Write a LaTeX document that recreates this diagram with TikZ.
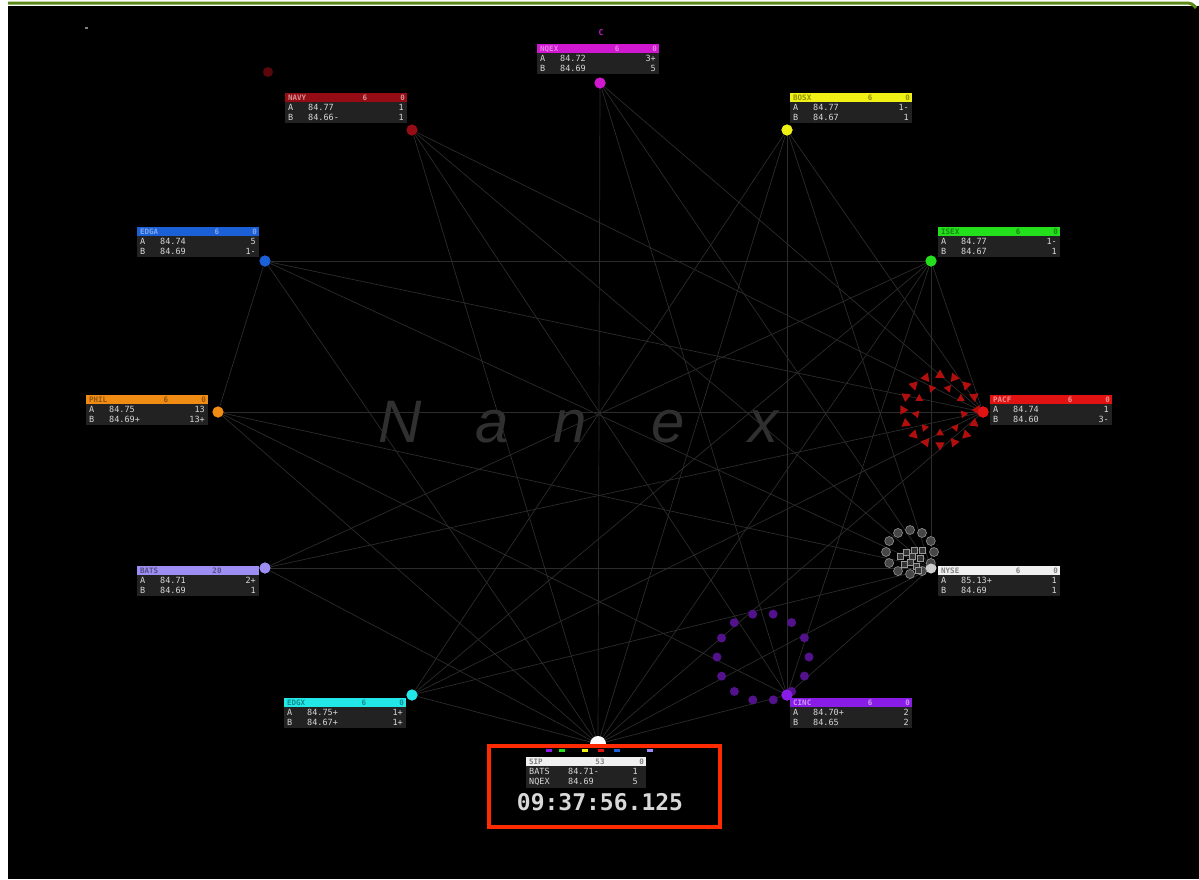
\documentclass[tikz,border=0pt]{standalone}
\usepackage{fontspec}
\setmonofont{DejaVu Sans Mono}
\setsansfont{Liberation Sans}
\usetikzlibrary{shapes.geometric}
\definecolor{rowbg}{HTML}{222222}
\definecolor{rowtext}{HTML}{D8D8D8}
\definecolor{linkgray}{HTML}{2C2C2C}
\definecolor{cMag}{HTML}{D018D0}
\definecolor{cNavy}{HTML}{960C14}
\definecolor{cYel}{HTML}{F0F014}
\definecolor{cBlue}{HTML}{1C60D8}
\definecolor{cGreen}{HTML}{24E01C}
\definecolor{cOrange}{HTML}{F08C14}
\definecolor{cRed}{HTML}{E01212}
\definecolor{cWhite}{HTML}{F0F0F0}
\definecolor{cLav}{HTML}{9C8EF2}
\definecolor{cCyan}{HTML}{22E8E8}
\definecolor{cPurp}{HTML}{8A1CE8}
\definecolor{frameGreen}{HTML}{5C8A1A}
\definecolor{boxRed}{HTML}{FF2A00}
\definecolor{wm}{HTML}{303030}
\tikzset{
  link/.style={draw=linkgray, line width=0.7pt},
  dot/.style={circle, fill=#1, inner sep=0pt, minimum size=11pt},
  lbl/.style={font=\fontsize{8.5}{9}\selectfont\ttfamily, text=rowtext, inner sep=0pt},
  hlbl/.style={font=\fontsize{7.5}{8}\selectfont\ttfamily\bfseries, inner sep=0pt},
  redtri/.style={regular polygon, regular polygon sides=3, fill=cRed!80!black, inner sep=0pt, minimum size=#1},
}
% header + row block: x y color textcolor name num zero
\newcommand\exhead[7]{%
  \fill[#3] (#1,#2) rectangle ++(122,9);
  \fill[rowbg] (#1,#2+9) rectangle ++(122,21);
  \node[hlbl,text=#4,anchor=base west] at (#1+3,#2+7.5) {#5};
  \node[hlbl,text=#4,anchor=base] at (#1+80,#2+7.5) {#6};
  \node[hlbl,text=#4,anchor=base east] at (#1+120,#2+7.5) {#7};
}
% rows: x y labelA priceA sizeA labelB priceB sizeB
\newcommand\exrows[8]{%
  \node[lbl,anchor=base west] at (#1+3,#2+17.5) {#3};
  \node[lbl,anchor=base west] at (#1+23,#2+17.5) {#4};
  \node[lbl,anchor=base east] at (#1+119,#2+17.5) {#5};
  \node[lbl,anchor=base west] at (#1+3,#2+27.5) {#6};
  \node[lbl,anchor=base west] at (#1+23,#2+27.5) {#7};
  \node[lbl,anchor=base east] at (#1+119,#2+27.5) {#8};
}
\begin{document}
\begin{tikzpicture}[x=1pt,y=-1pt]
\useasboundingbox (0,0) rectangle (1199,879);
\fill[white] (0,0) rectangle (1199,879);
\fill[black] (8,6) rectangle (1199,879);
\draw[frameGreen, line width=3pt, rounded corners=4pt] (8,3) -- (1192,3) -- (1196,8);
% watermark
\begin{scope}[font=\fontsize{60}{60}\selectfont\sffamily\itshape, text=wm]
\node[anchor=base] (wN) at (400,442) {N};
\node[anchor=base] (wa) at (492,442) {a};
\node[anchor=base] (wn) at (570,442) {n};
\node[anchor=base] (we) at (668,442) {e};
\node[anchor=base] (wx) at (763,442) {x};
\end{scope}
% main nodes
\node[dot=cMag] (mq) at (600,83) {};
\node[dot=cNavy] (na) at (412,130) {};
\node[dot=cYel] (bo) at (787,130) {};
\node[dot=cBlue] (ch) at (265,261) {};
\node[dot=cGreen] (is) at (931,261) {};
\node[dot=cOrange] (ph) at (218,412) {};
\node[dot=cRed] (pa) at (983,412) {};
\node[dot=cLav] (ba) at (265,568) {};
\node[dot=cWhite!70!gray] (ns) at (931,568) {};
\node[dot=cCyan] (ed) at (412,695) {};
\node[dot=cPurp] (ci) at (787,695) {};
\node[circle, inner sep=0pt, minimum size=4pt] (sip) at (598,744) {};
% connectors
\foreach \n in {mq,na,bo,ch,is,ph,pa,ns,ba,ed,ci} \draw[link] (sip) -- (\n);
\foreach \n in {mq,na,bo,ch,is,ph,ba,ed} \draw[link] (pa) -- (\n);
\foreach \n in {mq,na,bo,ch,is,ph,ba,ed,ci} \draw[link] (ns) -- (\n);
\foreach \n in {mq,na,bo,ph,is} \draw[link] (ci) -- (\n);
\foreach \n in {ba,ed,ch} \draw[link] (is) -- (\n);
\draw[link] (bo) -- (ed);
\draw[link] (ph) -- (ch);
% redraw dots over lines
\node[dot=cMag] at (mq) {};
\node[dot=cNavy] at (na) {};
\node[dot=cYel] at (bo) {};
\node[dot=cBlue] at (ch) {};
\node[dot=cGreen] at (is) {};
\node[dot=cOrange] at (ph) {};
\node[dot=cRed] at (pa) {};
\node[dot=cLav] at (ba) {};
\node[dot=cCyan] at (ed) {};
\node[dot=cPurp] at (ci) {};
% red cluster
\foreach \a in {0,22.5,...,337.5}
  \node[redtri=11pt, rotate=\a+90] at ({940+37*cos(\a)},{410+35*sin(\a)}) {};
\foreach \a in {10,50,...,340}
  \node[redtri=9pt, rotate=\a-90] at ({940+24*cos(\a)},{410+23*sin(\a)}) {};
\node[dot=cRed] at (pa) {};
% white cluster
\foreach \a in {0,30,...,330}
  \filldraw[fill=gray!55!black, draw=gray!85, line width=0.6pt] ({910+24*cos(\a)},{552+22*sin(\a)}) circle (4.5);
\foreach \dx/\dy in {-6/-4,2/-6,8/2,-2/6,4/10,-8/8,10/-6,-12/0,0/0,6/14}
  \filldraw[fill=gray!40!black, draw=gray!80, line width=0.6pt] ({912+\dx-3},{556+\dy-3}) rectangle ++(6,6);
\node[dot=cWhite!70!gray, minimum size=9pt] at (ns) {};
% purple cluster
\foreach \a in {0,25.7,...,359}
  \fill[cPurp!60!black] ({763+46*cos(\a)},{657+44*sin(\a)}) circle (4.5);
\node[dot=cPurp] at (ci) {};
% sip marker
\fill[white] (598,744) ++(-8,0) arc[start angle=180, end angle=360, radius=8] -- cycle;
\foreach \xx/\cc in {549/cPurp,562/cGreen,585/cYel,601/cRed,617/cBlue,650/cLav}
  \fill[\cc] (\xx-3,752) rectangle ++(6,-3);
% small markers
\fill[cNavy!60!black] (268,72) circle (5);
\node[font=\fontsize{8}{8}\selectfont\ttfamily\bfseries, text=cMag, inner sep=0pt] (cmark) at (601,33) {C};
\fill[gray] (85,27) rectangle ++(3,2);
% labels
\exhead{537}{44}{cMag}{cMag!55!white}{NQEX}{6}{0}
\exrows{537}{44}{A}{84.72}{3+}{B}{84.69}{5}
\exhead{285}{93}{cNavy}{cNavy!45!white}{NAVY}{6}{0}
\exrows{285}{93}{A}{84.77}{1}{B}{84.66-}{1}
\exhead{790}{93}{cYel}{cYel!60!black}{BOSX}{6}{0}
\exrows{790}{93}{A}{84.77}{1-}{B}{84.67}{1}
\exhead{137}{227}{cBlue}{cBlue!55!white}{EDGA}{6}{0}
\exrows{137}{227}{A}{84.74}{5}{B}{84.69}{1-}
\exhead{938}{227}{cGreen}{cGreen!60!black}{ISEX}{6}{0}
\exrows{938}{227}{A}{84.77}{1-}{B}{84.67}{1}
\exhead{86}{395}{cOrange}{cOrange!60!black}{PHIL}{6}{0}
\exrows{86}{395}{A}{84.75}{13}{B}{84.69+}{13+}
\exhead{990}{395}{cRed}{cRed!45!white}{PACF}{6}{0}
\exrows{990}{395}{A}{84.74}{1}{B}{84.60}{3-}
\exhead{137}{566}{cLav}{cLav!55!black}{BATS}{20}{}
\exrows{137}{566}{A}{84.71}{2+}{B}{84.69}{1}
\exhead{938}{566}{cWhite}{gray}{NYSE}{6}{0}
\exrows{938}{566}{A}{85.13+}{1}{B}{84.69}{1}
\exhead{284}{698}{cCyan}{cCyan!60!black}{EDGX}{6}{0}
\exrows{284}{698}{A}{84.75+}{1+}{B}{84.67+}{1+}
\exhead{790}{698}{cPurp}{cPurp!45!white}{CINC}{6}{0}
\exrows{790}{698}{A}{84.70+}{2}{B}{84.65}{2}
% SIP box
\fill[cWhite] (526,757) rectangle ++(120,9);
\fill[rowbg] (526,766) rectangle ++(120,22);
\node[hlbl,text=gray,anchor=base west] at (529,764.5) {SIP};
\node[hlbl,text=gray,anchor=base] at (600,764.5) {53};
\node[hlbl,text=gray,anchor=base east] at (644,764.5) {0};
\node[lbl,anchor=base west] at (529,774.5) {BATS};
\node[lbl,anchor=base west] at (568,774.5) {84.71-};
\node[lbl,anchor=base east] at (638,774.5) {1};
\node[lbl,anchor=base west] at (529,784.5) {NQEX};
\node[lbl,anchor=base west] at (568,784.5) {84.69};
\node[lbl,anchor=base east] at (638,784.5) {5};
\node[font=\fontsize{23}{23}\selectfont\ttfamily\bfseries, text=rowtext, inner sep=0pt] (clock) at (600,802) {09:37:56.125};
\draw[boxRed, line width=4pt] (489,746) rectangle (720,827);
\end{tikzpicture}
\end{document}
